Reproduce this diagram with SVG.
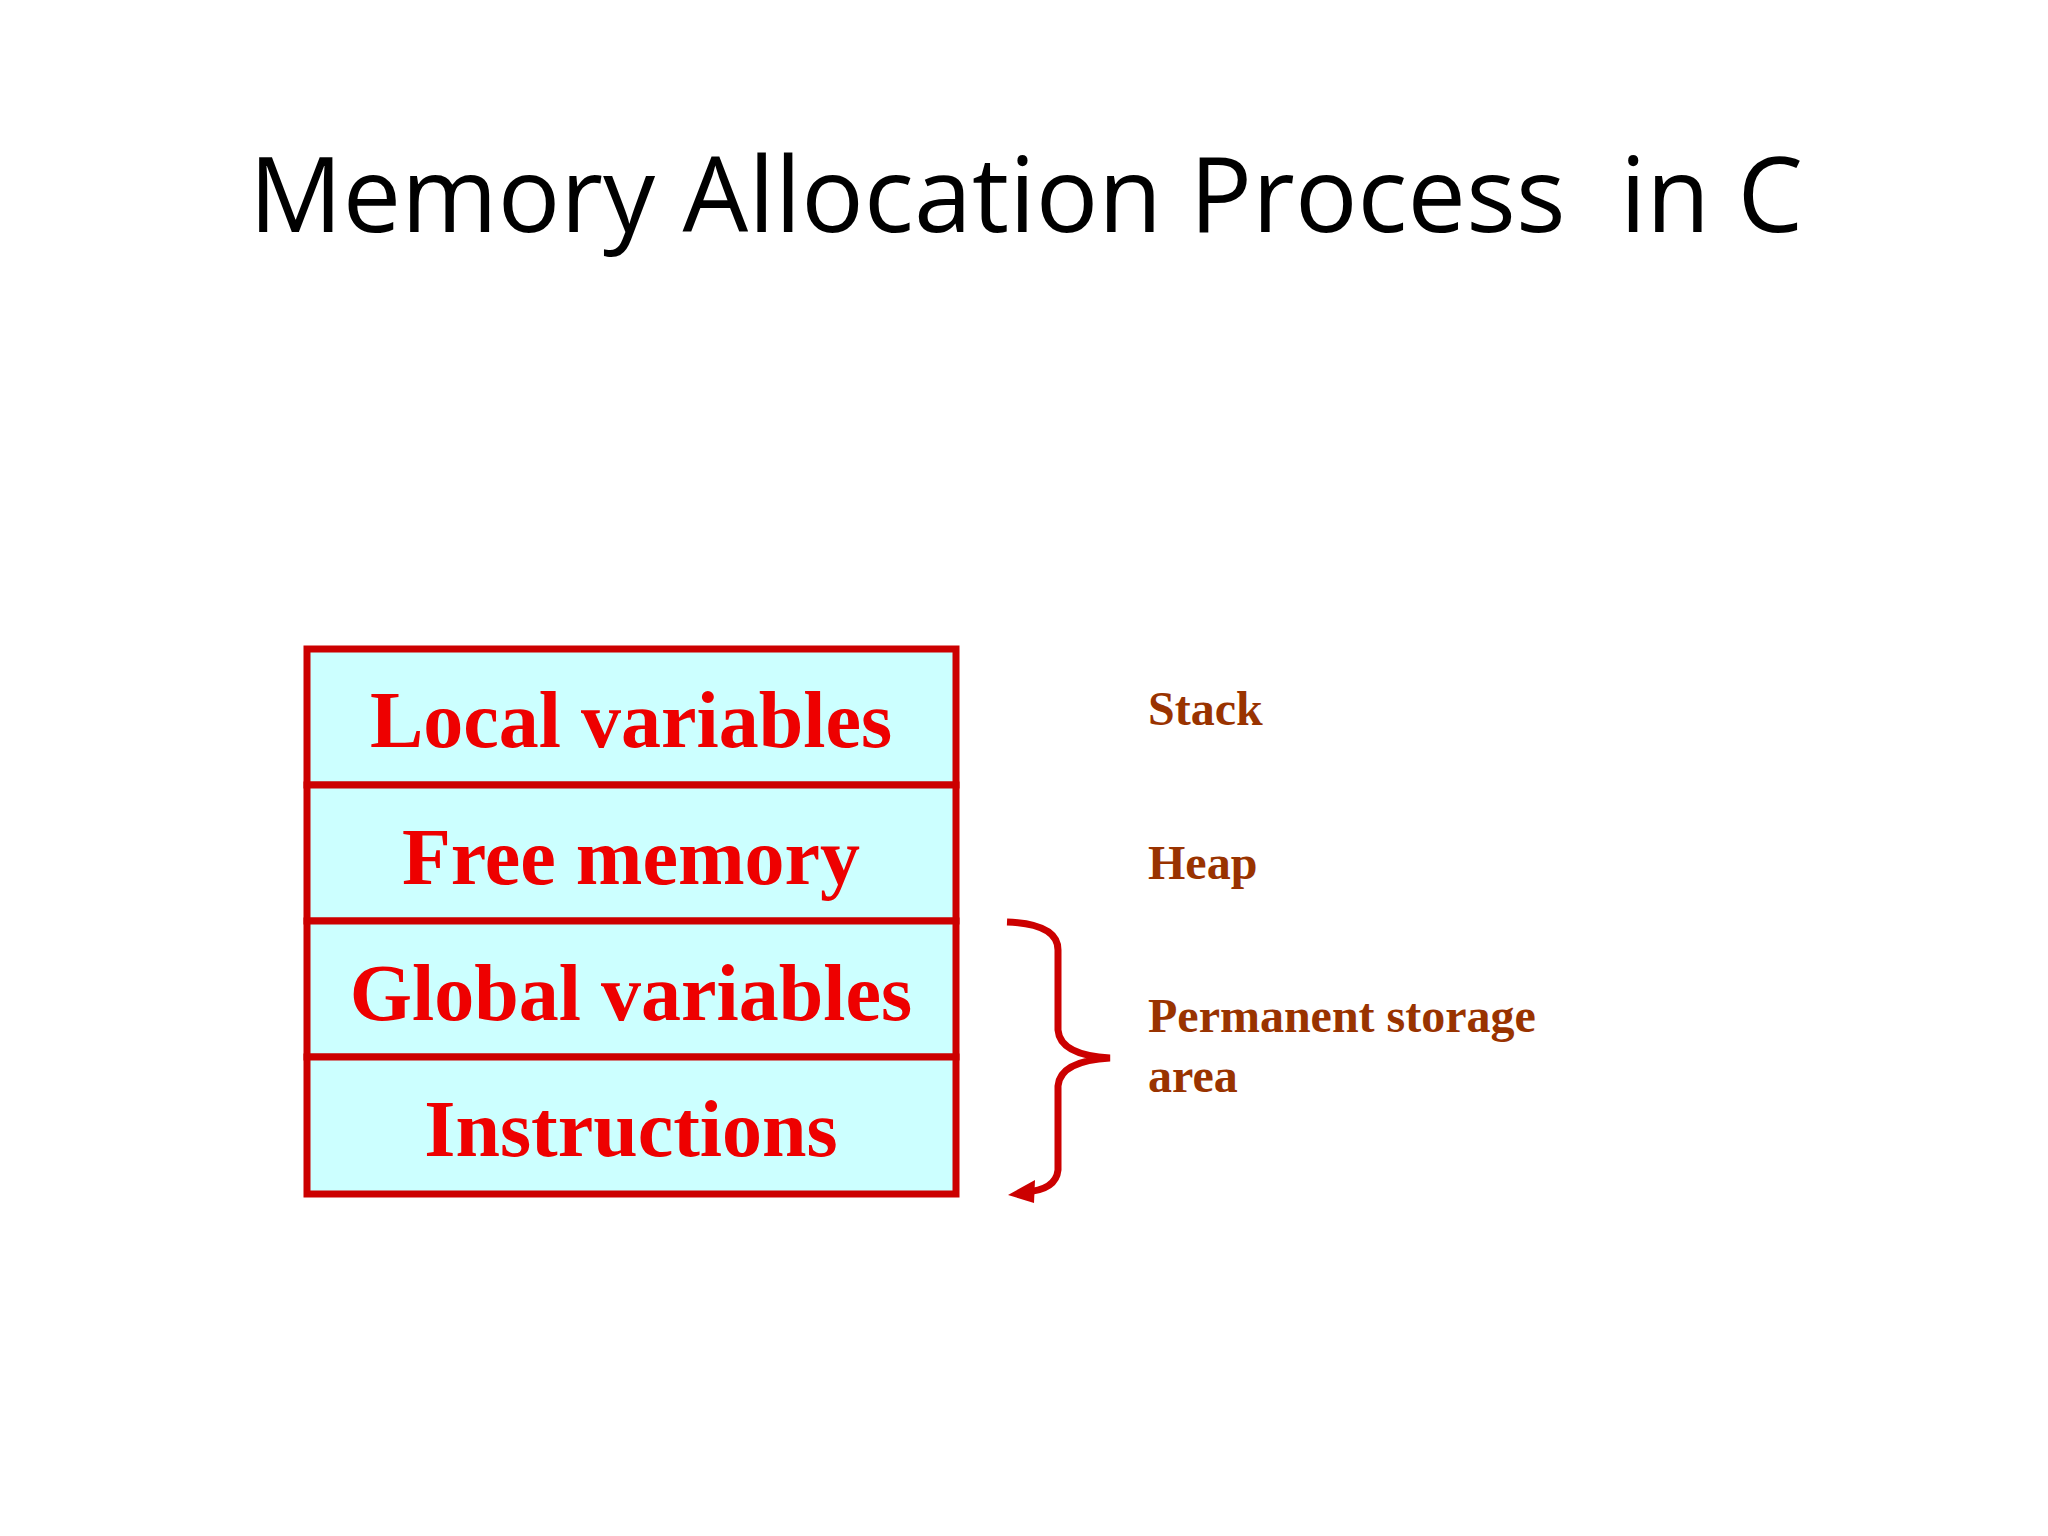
<svg xmlns="http://www.w3.org/2000/svg" width="2048" height="1536" viewBox="0 0 2048 1536">
<style>
.cell{fill:#CCFFFF;stroke:#CC0000;stroke-width:7}
.ct{font-family:"Liberation Serif",serif;font-weight:bold;font-size:80px;fill:#EE0000;text-anchor:middle}
.lb{font-family:"Liberation Serif",serif;font-weight:bold;font-size:48px;fill:#993300}
</style>
<rect width="2048" height="1536" fill="#fff"/>
<text x="1026" y="232" font-family="Open Sans, sans-serif" font-size="104" text-anchor="middle" textLength="1554" xml:space="preserve">Memory Allocation Process  in C</text>
<g id="local"><rect class="cell" x="307" y="649" width="649" height="136"/><text class="ct" x="631" y="747">Local variables</text></g>
<g id="free"><rect class="cell" x="307" y="785" width="649" height="136"/><text class="ct" x="631" y="884">Free memory</text></g>
<g id="global"><rect class="cell" x="307" y="921" width="649" height="136"/><text class="ct" x="631" y="1020">Global variables</text></g>
<g id="instr"><rect class="cell" x="307" y="1057" width="649" height="137"/><text class="ct" x="631" y="1156">Instructions</text></g>
<g id="labels">
<text class="lb" x="1148" y="725">Stack</text>
<text class="lb" x="1148" y="879">Heap</text>
<text class="lb" x="1148" y="1032">Permanent storage</text>
<text class="lb" x="1148" y="1092">area</text>
</g>
<g id="connectors" fill="none" stroke="#CC0000" stroke-width="7">
<path d="M1007,922 Q1058,924 1058,950 L1058,1030 Q1060,1055 1110,1058 Q1060,1061 1058,1086 L1058,1170 Q1056,1190 1025,1192"/>
<polygon points="1008,1195 1035,1180 1034,1203" fill="#CC0000" stroke="none"/>
</g>
</svg>
